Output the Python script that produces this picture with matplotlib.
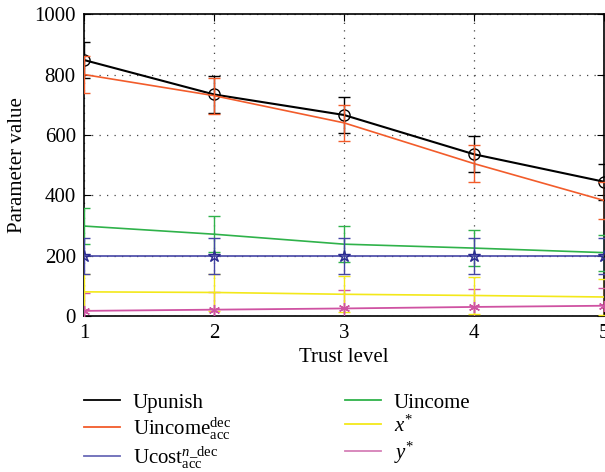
import numpy as np
import matplotlib.pyplot as plt
from matplotlib.lines import Line2D

plt.rcParams['font.family'] = 'Liberation Serif'
plt.rcParams['mathtext.fontset'] = 'custom'
plt.rcParams['mathtext.rm'] = 'Liberation Serif'
plt.rcParams['mathtext.it'] = 'Liberation Serif:italic'
plt.rcParams['xtick.direction'] = 'in'
plt.rcParams['ytick.direction'] = 'in'

trust = [1, 2, 3, 4, 5]
upunish = [848, 734, 666, 536, 445]
uincome_acc = [800, 730, 640, 505, 383]
uincome = [298, 271, 238, 225, 210]
ucost_acc = [200, 200, 200, 200, 200]
x_star = [80, 78, 72, 68, 63]
y_star = [17, 21, 25, 30, 34]
err = [60, 60, 60, 60, 60]

fig = plt.figure(figsize=(6.05, 4.72), dpi=100)
ax = fig.add_axes([0.139, 0.3305, 0.859, 0.6395])

c_black = 'black'
c_orange = '#f25c2b'
c_green = '#2fb24a'
c_blue = '#4545a5'
c_yellow = '#f3e81a'
c_pink = '#cf52a2'

kw = dict(capsize=4.5, elinewidth=1.0, capthick=1.0)
ax.errorbar(trust, y_star, yerr=err, color=c_pink, lw=1.3, marker=(6, 2, 0),
            ms=8, mew=1.0, zorder=3, **kw)
ax.errorbar(trust, x_star, yerr=err, color=c_yellow, lw=1.2, zorder=3, **kw)
ax.errorbar(trust, ucost_acc, yerr=err, color=c_blue, lw=1.2, marker='*',
            ms=9, mfc='none', mec='#2a2a90', mew=1.0, zorder=4, **kw)
ax.errorbar(trust, uincome, yerr=err, color=c_green, lw=1.2, zorder=3, **kw)
ax.errorbar(trust, upunish, yerr=err, color=c_black, lw=1.5, marker='o',
            ms=8, mfc='none', mew=1.0, zorder=5, **kw)
ax.errorbar(trust, uincome_acc, yerr=err, color=c_orange, lw=1.2, zorder=6, **kw)

ax.set_xlim(1, 5)
ax.set_ylim(0, 1000)
ax.set_xticks(trust)
ax.set_yticks(np.arange(0, 1001, 200))
ax.tick_params(labelsize=15, length=5, top=True, right=True, pad=6)
ax.grid(True, linestyle=(0, (1, 5)), color='#444444', linewidth=0.9)
for s in ax.spines.values():
    s.set_linewidth(1.2)

ax.set_xlabel('Trust level', fontsize=15, labelpad=3)
ax.set_ylabel('Parameter value', fontsize=15, labelpad=5)

left_labels = ['Upunish',
               r'Uincome$_{\mathrm{acc}}^{\mathrm{dec}}$',
               r'Ucost$_{\mathrm{acc}}^{\mathit{n}\_\mathrm{dec}}$']
left_colors = [c_black, c_orange, '#6a6ab8']
right_labels = ['Uincome', r'$\mathit{x}^{*}$', r'$\mathit{y}^{*}$']
right_colors = [c_green, c_yellow, '#d680b8']

lkw = dict(frameon=False, fontsize=15, handlelength=1.75, handletextpad=0.6,
           labelspacing=0.14, loc='upper left', borderaxespad=0, borderpad=0)
h1 = [Line2D([], [], color=c, lw=1.3) for c in left_colors]
h2 = [Line2D([], [], color=c, lw=1.3) for c in right_colors]
leg1 = fig.legend(h1, left_labels, **lkw)
leg1.set_bbox_to_anchor((84 / 605, 1 - 393 / 472), transform=fig.transFigure)
leg2 = fig.legend(h2, right_labels, **lkw)
leg2.set_bbox_to_anchor((345 / 605, 1 - 393 / 472), transform=fig.transFigure)

fig.savefig('out.png', dpi=100)
